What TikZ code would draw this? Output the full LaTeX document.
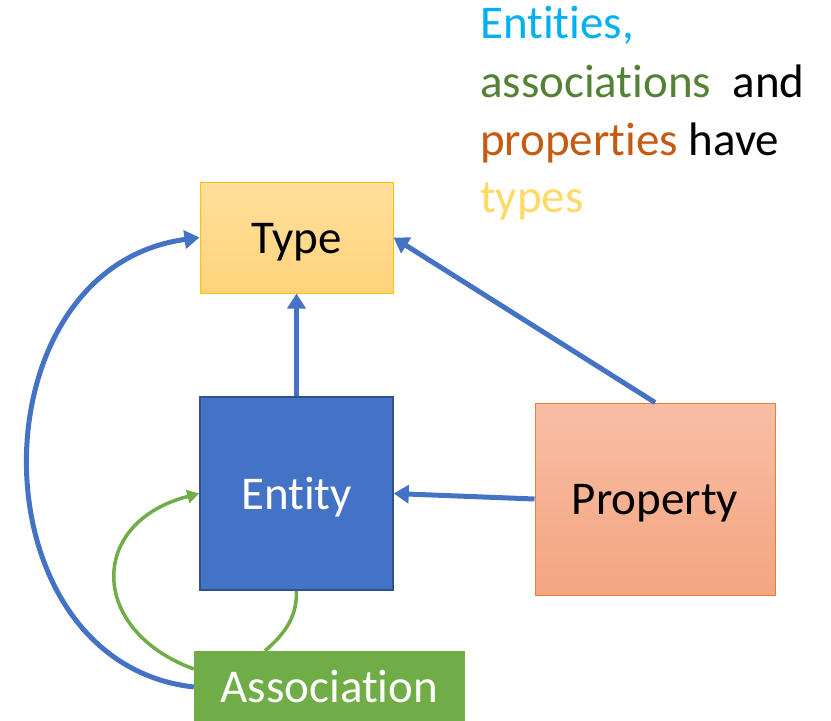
\documentclass[tikz,border=0pt]{standalone}
\usepackage{fontspec}
\setmainfont{Carlito}[RawFeature={-liga;-clig;-dlig;-calt;-rlig}]
\usetikzlibrary{arrows.meta,calc}
\newcommand{\tiX}{t\kern0pt i}
\definecolor{tyfillA}{HTML}{FFDF9C}
\definecolor{tyfillB}{HTML}{FFD37B}
\definecolor{tyline}{HTML}{FFC000}
\definecolor{enfill}{HTML}{4472C4}
\definecolor{enline}{HTML}{2F528F}
\definecolor{prfillA}{HTML}{F7BEA5}
\definecolor{prfillB}{HTML}{F4A580}
\definecolor{prline}{HTML}{ED7D31}
\definecolor{asfill}{HTML}{70AD47}
\definecolor{arrblue}{HTML}{4472C4}
\definecolor{arrgreen}{HTML}{70AD47}
\definecolor{txtcyan}{HTML}{00B0F0}
\definecolor{txtgreen}{HTML}{548235}
\definecolor{txtorange}{HTML}{C55A11}
\definecolor{txtyellow}{HTML}{FFD966}
\begin{document}
\begin{tikzpicture}[x=1pt,y=-1pt,
  boxbase/.style={rectangle, inner sep=0pt, text height=40pt, text depth=9pt,
     font=\fontsize{47}{57}\selectfont},
  typebox/.style={boxbase, draw=tyline, line width=1pt, top color=tyfillA, bottom color=tyfillB,
     minimum width=193pt, minimum height=111pt},
  entitybox/.style={boxbase, draw=enline, line width=1.5pt, fill=enfill, text=white,
     minimum width=193pt, minimum height=193pt},
  propbox/.style={boxbase, draw=prline, line width=1pt, top color=prfillA, bottom color=prfillB,
     minimum width=240pt, minimum height=192pt},
  assocbox/.style={boxbase, fill=asfill, text=white, minimum width=271pt, minimum height=72pt},
  bluearrow/.style={draw=arrblue, line width=5pt, -{Triangle[length=15pt,width=18pt]}},
  greenarrow/.style={draw=arrgreen, line width=3.5pt, -{Triangle[length=12pt,width=13pt]}},
  greenline/.style={draw=arrgreen, line width=3.5pt},
  sidetext/.style={anchor=base west, inner sep=0pt, font=\fontsize{47}{57}\selectfont}
]
\useasboundingbox (0,0) rectangle (831,721);

\node[typebox] (type) at (296.5,237.5) {Type};
\node[entitybox] (entity) at (296.5,493.5) {En\tiX ty};
\node[propbox] (prop) at (655,499) {Property};
\node[assocbox] (assoc) at (329.5,687) {Associa\tiX on};

\node[sidetext] (t1) at (480,38) {\textcolor{txtcyan}{En\tiX \tiX es,}};
\node[sidetext] (t2) at (480,97) {\textcolor{txtgreen}{associa\tiX ons}\ \ \textcolor{black}{and}};
\node[sidetext] (t3) at (480,155) {\textcolor{txtorange}{proper\tiX es} \textcolor{black}{have}};
\node[sidetext] (t4) at (480,212) {\textcolor{txtyellow}{types}};

\coordinate (assoctop) at ([xshift=-64.5pt]assoc.north);
\coordinate (assocleft) at ([yshift=18pt]assoc.west);

\draw[bluearrow] (entity.north) -- (type.south);
\draw[bluearrow] (prop.north) -- (type.east);
\draw[bluearrow] (prop.west) -- (entity.east);
\draw[bluearrow] (assoc.west) .. controls (-28,662) and (-28,268) .. (type.west);
\draw[greenarrow] (assocleft) .. controls (88,630) and (88,522) .. (entity.west);
\draw[greenline] (entity.south) .. controls (297,615) and (287,632) .. (assoctop);
\end{tikzpicture}
\end{document}
